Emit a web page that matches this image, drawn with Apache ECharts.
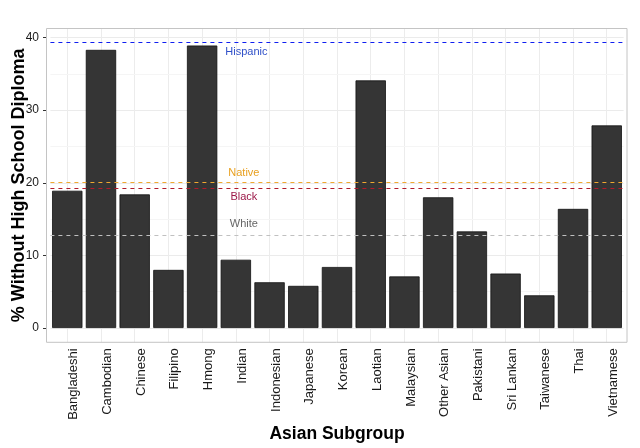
<!DOCTYPE html>
<html>
<head>
<meta charset="utf-8">
<script src="https://cdn.jsdelivr.net/npm/echarts@6/dist/echarts.min.js"></script>
<style>
  html, body { margin: 0; padding: 0; background: #ffffff; }
  #chart { width: 640px; height: 448px; }
</style>
</head>
<body>
<div id="chart"></div>
<script>
// ---- data ----
var categories = ['Bangladeshi', 'Cambodian', 'Chinese', 'Filipino', 'Hmong', 'Indian',
  'Indonesian', 'Japanese', 'Korean', 'Laotian', 'Malaysian', 'Other Asian',
  'Pakistani', 'Sri Lankan', 'Taiwanese', 'Thai', 'Vietnamese'];
var values = [18.9, 38.3, 18.4, 8.0, 38.9, 9.4, 6.3, 5.8, 8.4, 34.1, 7.1, 18.0, 13.3, 7.5, 4.5, 16.4, 27.9];
var refNames = ['Hispanic', 'Native', 'Black', 'White'];
var refValues = [39.3, 20.1, 19.2, 12.8];
var yTicks = [0, 10, 20, 30, 40];
var yMinor = [5, 15, 25, 35];
var labelAnchorCategory = 'Indian';

// ---- styles ----
var refLineColors = ['#1020f0', '#f0a830', '#b01a2c', '#c0c0c0'];
var refLabelColors = ['#3050c8', '#e8a020', '#9c1848', '#666666'];
var refLabelOffsets = [[10.5, 9], [8, -8.7], [8, 8.1], [8, -11]];
var FONT = 'Liberation Sans, Arial, Helvetica, sans-serif';

var chart = echarts.init(document.getElementById('chart'), null, { renderer: 'canvas' });

var refLineData = refValues.map(function (v, i) {
  return { yAxis: v, lineStyle: { color: refLineColors[i], type: [4, 4], width: 1.1 } };
});
var refLabelData = refNames.map(function (n, i) {
  return {
    name: n,
    coord: [labelAnchorCategory, refValues[i]],
    label: { color: refLabelColors[i], offset: refLabelOffsets[i] }
  };
});
var gridLineData = categories.map(function (c) {
  return { xAxis: c, lineStyle: { color: '#ececec', width: 1, type: 'solid' } };
}).concat(yMinor.map(function (v) {
  return { yAxis: v, lineStyle: { color: '#f5f5f5', width: 1, type: 'solid' } };
}));

var option = {
  animation: false,
  backgroundColor: '#ffffff',
  textStyle: { fontFamily: FONT },
  grid: {
    left: 50.4, right: 16.4, top: 28.3, bottom: 105.7,
    containLabel: false, outerBoundsMode: 'none'
  },
  xAxis: {
    type: 'category',
    data: categories,
    name: 'Asian Subgroup',
    nameLocation: 'middle',
    nameGap: 83,
    nameMoveOverlap: false,
    nameTextStyle: { fontSize: 17.5, fontWeight: 'bold', color: '#000', fontFamily: FONT },
    axisLine: { show: false },
    axisTick: { show: true, alignWithLabel: true, length: 4, lineStyle: { color: '#333' } },
    axisLabel: {
      rotate: 90, fontSize: 13, color: '#1a1a1a', margin: 6, interval: 0,
      verticalAlign: 'top', fontFamily: FONT
    },
    splitLine: { show: false }
  },
  yAxis: {
    type: 'value',
    min: -1.97,
    max: 41.27,
    offset: 3.4,
    name: '% Without High School Diploma',
    nameLocation: 'middle',
    nameGap: 18.5,
    nameMoveOverlap: false,
    nameTextStyle: { fontSize: 18, fontWeight: 'bold', color: '#000', fontFamily: FONT },
    axisLine: { show: false },
    axisTick: { show: true, length: 4, customValues: yTicks, lineStyle: { color: '#333' } },
    axisLabel: { customValues: yTicks, fontSize: 12, color: '#1a1a1a', margin: 8, fontFamily: FONT },
    splitLine: { show: true, lineStyle: { color: '#ebebeb', width: 1 } }
  },
  graphic: [{
    type: 'rect',
    shape: { x: 46.5, y: 28.5, width: 580.5, height: 313.8 },
    style: { fill: null, stroke: '#c4c4c4', lineWidth: 1 },
    z: 100,
    silent: true
  }],
  series: [
    {
      type: 'line',
      data: [],
      silent: true,
      z: 1,
      markLine: {
        silent: true,
        z: 1,
        symbol: ['none', 'none'],
        label: { show: false },
        data: gridLineData
      }
    },
    {
      type: 'bar',
      data: values,
      z: 2,
      barCategoryGap: '10%',
      itemStyle: { color: '#353535', borderColor: '#111', borderWidth: 0.8 },
      silent: true,
      markLine: {
        silent: true,
        symbol: ['none', 'none'],
        label: { show: false },
        data: refLineData
      },
      markPoint: {
        silent: true,
        symbol: 'circle',
        symbolSize: 1,
        itemStyle: { color: 'rgba(0,0,0,0)' },
        label: { show: true, position: 'inside', formatter: '{b}', fontSize: 11, fontFamily: FONT },
        data: refLabelData
      }
    }
  ]
};
chart.setOption(option);
</script>
</body>
</html>
